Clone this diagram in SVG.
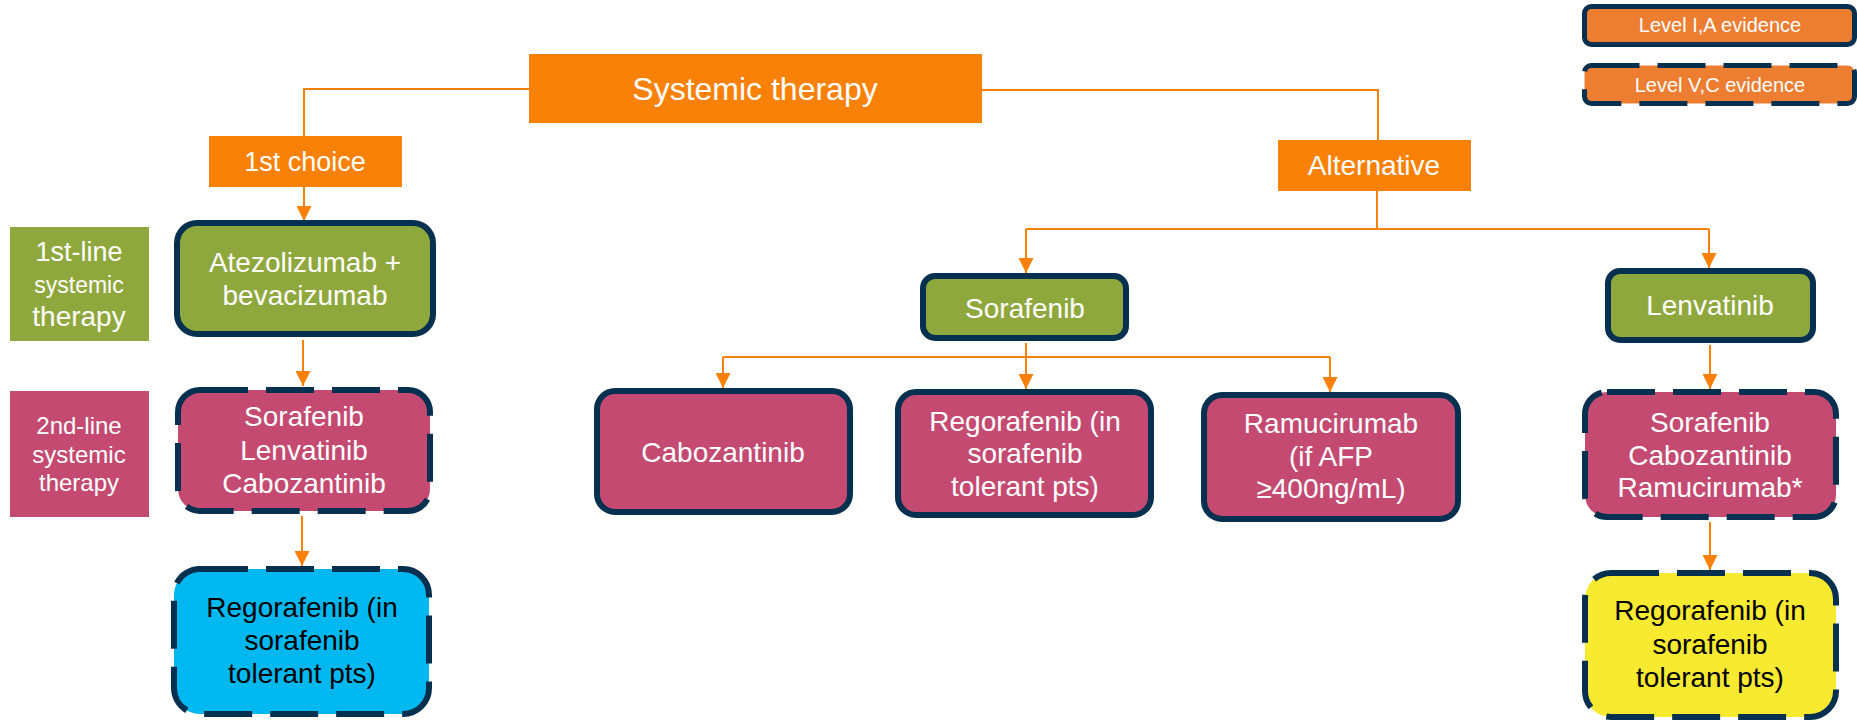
<svg xmlns="http://www.w3.org/2000/svg" width="1857" height="722" viewBox="0 0 1857 722">
<style>
text{font-family:"Liberation Sans",Arial,sans-serif;text-anchor:middle;fill:#fff}
.t28{font-size:28px}
.t24{font-size:24px}
.dark{fill:#000}
.or{fill:#F98107}
.lg{fill:#ED7D31;stroke:#06304F;stroke-width:5}
.grn{fill:#8FA83D}
.pnk{fill:#C44A72}
.nb{stroke:#06304F;stroke-width:6}
.dash{stroke-dasharray:48 18}
.conn{fill:none;stroke:#F98107;stroke-width:2}
</style>
<defs>
<marker id="ah" markerUnits="userSpaceOnUse" markerWidth="15" markerHeight="15" refX="15" refY="7.5" orient="auto">
<path d="M0,0 L15,7.5 L0,15 z" fill="#F98107"/>
</marker>
</defs>
<g id="connectors">
<path class="conn" d="M529,89 H304 V136"/>
<path class="conn" d="M304,187 V221" marker-end="url(#ah)"/>
<path class="conn" d="M303,340 V386" marker-end="url(#ah)"/>
<path class="conn" d="M302,516 V566" marker-end="url(#ah)"/>
<path class="conn" d="M982,90 H1378 V140"/>
<path class="conn" d="M1377,191 V229"/>
<path class="conn" d="M1026,229 H1709"/>
<path class="conn" d="M1026,229 V273" marker-end="url(#ah)"/>
<path class="conn" d="M1709,229 V268" marker-end="url(#ah)"/>
<path class="conn" d="M1026,343 V357"/>
<path class="conn" d="M723,357 H1330"/>
<path class="conn" d="M723,357 V388" marker-end="url(#ah)"/>
<path class="conn" d="M1026,357 V389" marker-end="url(#ah)"/>
<path class="conn" d="M1330,357 V392" marker-end="url(#ah)"/>
<path class="conn" d="M1710,345 V389" marker-end="url(#ah)"/>
<path class="conn" d="M1710,522 V570" marker-end="url(#ah)"/>
</g>
<g id="legend-ia">
<rect class="lg" x="1584.5" y="6.5" width="270" height="38" rx="7"/>
<text x="1720" y="32" style="font-size:20px">Level I,A evidence</text>
</g>
<g id="legend-vc">
<rect class="lg dash" x="1584.5" y="65.5" width="270" height="38" rx="7"/>
<text x="1720" y="92" style="font-size:20px">Level V,C evidence</text>
</g>
<g id="systemic-therapy">
<rect class="or" x="529" y="54" width="453" height="69"/>
<text x="755" y="100" style="font-size:32px">Systemic therapy</text>
</g>
<g id="first-choice">
<rect class="or" x="209" y="136" width="193" height="51"/>
<text class="t28" x="305" y="171" style="font-size:27px">1st choice</text>
</g>
<g id="alternative">
<rect class="or" x="1278" y="140" width="193" height="51"/>
<text class="t28" x="1374" y="175">Alternative</text>
</g>
<g id="label-1st-line">
<rect class="grn" x="10" y="227" width="139" height="114"/>
<text x="79" y="261" style="font-size:27px">1st-line</text>
<text x="79" y="293" style="font-size:23px">systemic</text>
<text x="79" y="326" style="font-size:28px">therapy</text>
</g>
<g id="label-2nd-line">
<rect class="pnk" x="10" y="391" width="139" height="126"/>
<text class="t24" x="79" y="434">2nd-line</text>
<text class="t24" x="79" y="463">systemic</text>
<text class="t24" x="79" y="491">therapy</text>
</g>
<g id="atezolizumab">
<rect class="grn nb" x="177" y="223" width="256" height="111" rx="20"/>
<text class="t28" x="305" y="272">Atezolizumab +</text>
<text class="t28" x="305" y="305">bevacizumab</text>
</g>
<g id="second-line-left">
<rect class="pnk nb dash" x="178" y="390" width="252" height="121" rx="22"/>
<text class="t28" x="304" y="426">Sorafenib</text>
<text class="t28" x="304" y="460">Lenvatinib</text>
<text class="t28" x="304" y="493">Cabozantinib</text>
</g>
<g id="regorafenib-left">
<rect x="174" y="569" width="255" height="145" rx="26" fill="#00B8F0" class="nb dash"/>
<text class="t28 dark" x="302" y="617">Regorafenib (in</text>
<text class="t28 dark" x="302" y="650">sorafenib</text>
<text class="t28 dark" x="302" y="683">tolerant pts)</text>
</g>
<g id="sorafenib">
<rect class="grn nb" x="923" y="276" width="203" height="62" rx="12"/>
<text class="t28" x="1025" y="318">Sorafenib</text>
</g>
<g id="lenvatinib">
<rect class="grn nb" x="1608" y="271" width="205" height="69" rx="12"/>
<text class="t28" x="1710" y="315">Lenvatinib</text>
</g>
<g id="cabozantinib">
<rect class="pnk nb" x="597" y="391" width="253" height="121" rx="18"/>
<text class="t28" x="723" y="462">Cabozantinib</text>
</g>
<g id="regorafenib-mid">
<rect class="pnk nb" x="898" y="392" width="253" height="123" rx="18"/>
<text class="t28" x="1025" y="431">Regorafenib (in</text>
<text class="t28" x="1025" y="463">sorafenib</text>
<text class="t28" x="1025" y="496">tolerant pts)</text>
</g>
<g id="ramucirumab">
<rect class="pnk nb" x="1204" y="395" width="254" height="124" rx="18"/>
<text class="t28" x="1331" y="433">Ramucirumab</text>
<text class="t28" x="1331" y="466">(if AFP</text>
<text class="t28" x="1331" y="498">≥400ng/mL)</text>
</g>
<g id="second-line-right">
<rect class="pnk nb dash" x="1585" y="392" width="251" height="125" rx="22"/>
<text class="t28" x="1710" y="432">Sorafenib</text>
<text class="t28" x="1710" y="465">Cabozantinib</text>
<text class="t28" x="1710" y="497">Ramucirumab*</text>
</g>
<g id="regorafenib-right">
<rect x="1585" y="573" width="251" height="144" rx="26" fill="#F7EA31" class="nb dash"/>
<text class="t28 dark" x="1710" y="620">Regorafenib (in</text>
<text class="t28 dark" x="1710" y="654">sorafenib</text>
<text class="t28 dark" x="1710" y="687">tolerant pts)</text>
</g>
</svg>
